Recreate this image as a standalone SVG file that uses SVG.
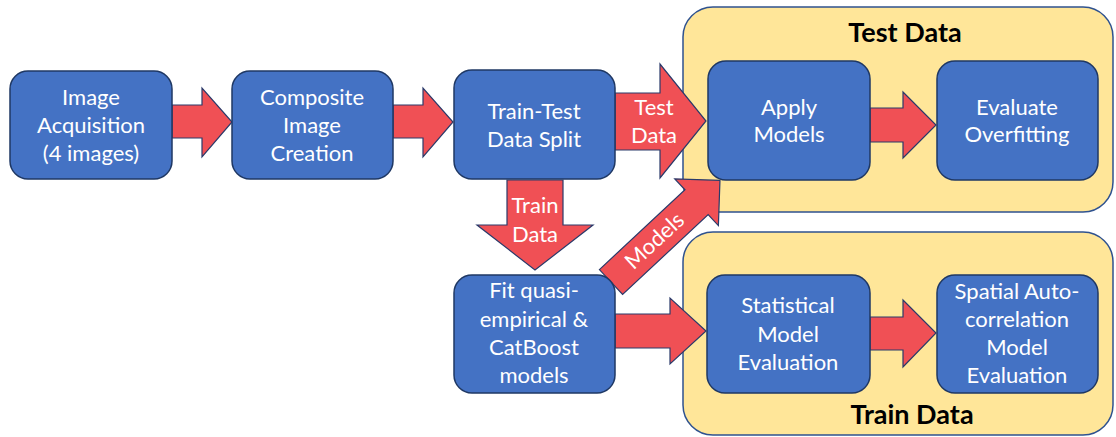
<svg xmlns="http://www.w3.org/2000/svg" width="1116" height="437" viewBox="0 0 1116 437">
  <style>
    .panel { fill: #FFE699; stroke: #2F528F; stroke-width: 1.5; }
    .node rect { fill: #4472C4; stroke: #1F3864; stroke-width: 1.5; }
    .node text, .lbl { font-family: Lato, "Liberation Sans", sans-serif; font-size: 22px; fill: #FFFFFF; text-anchor: middle; }
    .arrow { fill: #F05055; stroke: #2A3A6A; stroke-width: 1.2; stroke-linejoin: miter; }
    .title { font-family: Lato, "Liberation Sans", sans-serif; font-size: 27px; font-weight: bold; fill: #000000; text-anchor: middle; }
  </style>

  <!-- grouping panels -->
  <g id="panel-test">
    <rect class="panel" x="683" y="7" width="430" height="205" rx="30" ry="30"/>
    <text class="title" x="905" y="42">Test Data</text>
  </g>
  <g id="panel-train">
    <rect class="panel" x="683" y="232" width="430" height="203" rx="30" ry="30"/>
    <text class="title" x="912" y="424">Train Data</text>
  </g>

  <!-- block arrows -->
  <g id="connectors">
    <path class="arrow" d="M172,105 H202 V88 L232,122 L202,157 V138 H172 Z"/>
    <path class="arrow" d="M393,105 H423 V88 L453,122 L423,157 V138 H393 Z"/>
    <path class="arrow" d="M615,93 H660 V64 L706,121 L660,178 V150 H615 Z"/>
    <text class="lbl" x="654" y="115">Test</text>
    <text class="lbl" x="654" y="143">Data</text>
    <path class="arrow" d="M507,180 V225 H477 L535,270 L593,225 H563 V180 Z"/>
    <text class="lbl" x="535" y="213">Train</text>
    <text class="lbl" x="535" y="242">Data</text>
    <path class="arrow" d="M615,314 H670 V298 L706,331 L670,364 V348 H615 Z"/>
    <path class="arrow" d="M870,108 H903 V92 L936,125 L903,158 V142 H870 Z"/>
    <path class="arrow" d="M870,317 H903 V300 L936,333 L903,367 V350 H870 Z"/>
    <g transform="translate(611,282) rotate(-43)">
      <path class="arrow" d="M0,-17 H117 V-32 L149,0 L117,32 V17 H0 Z"/>
      <text class="lbl" x="60" y="7">Models</text>
    </g>
  </g>

  <!-- process steps -->
  <g id="image-acquisition" class="node">
    <rect x="10" y="71" width="162" height="108" rx="18" ry="18"/>
    <text x="91" y="105">Image</text>
    <text x="91" y="133">Acquisition</text>
    <text x="91" y="161">(4 images)</text>
  </g>
  <g id="composite-image" class="node">
    <rect x="232" y="71" width="161" height="108" rx="18" ry="18"/>
    <text x="312" y="105">Composite</text>
    <text x="312" y="133">Image</text>
    <text x="312" y="161">Creation</text>
  </g>
  <g id="train-test-split" class="node">
    <rect x="454" y="70" width="161" height="109" rx="18" ry="18"/>
    <text x="534" y="119">Train-Test</text>
    <text x="534" y="147">Data Split</text>
  </g>
  <g id="fit-models" class="node">
    <rect x="454" y="275" width="161" height="118" rx="18" ry="18"/>
    <text x="534" y="298">Fit quasi-</text>
    <text x="534" y="327">empirical &amp;</text>
    <text x="534" y="355">CatBoost</text>
    <text x="534" y="383">models</text>
  </g>
  <g id="apply-models" class="node">
    <rect x="708" y="61" width="162" height="119" rx="18" ry="18"/>
    <text x="789" y="115">Apply</text>
    <text x="789" y="142">Models</text>
  </g>
  <g id="evaluate-overfitting" class="node">
    <rect x="937" y="61" width="161" height="119" rx="18" ry="18"/>
    <text x="1017" y="115">Evaluate</text>
    <text x="1017" y="142">Overfitting</text>
  </g>
  <g id="statistical-evaluation" class="node">
    <rect x="707" y="275" width="163" height="118" rx="18" ry="18"/>
    <text x="788" y="313">Statistical</text>
    <text x="788" y="342">Model</text>
    <text x="788" y="370">Evaluation</text>
  </g>
  <g id="spatial-evaluation" class="node">
    <rect x="937" y="275" width="161" height="118" rx="18" ry="18"/>
    <text x="1017" y="299">Spatial Auto-</text>
    <text x="1017" y="327">correlation</text>
    <text x="1017" y="355">Model</text>
    <text x="1017" y="383">Evaluation</text>
  </g>
</svg>
